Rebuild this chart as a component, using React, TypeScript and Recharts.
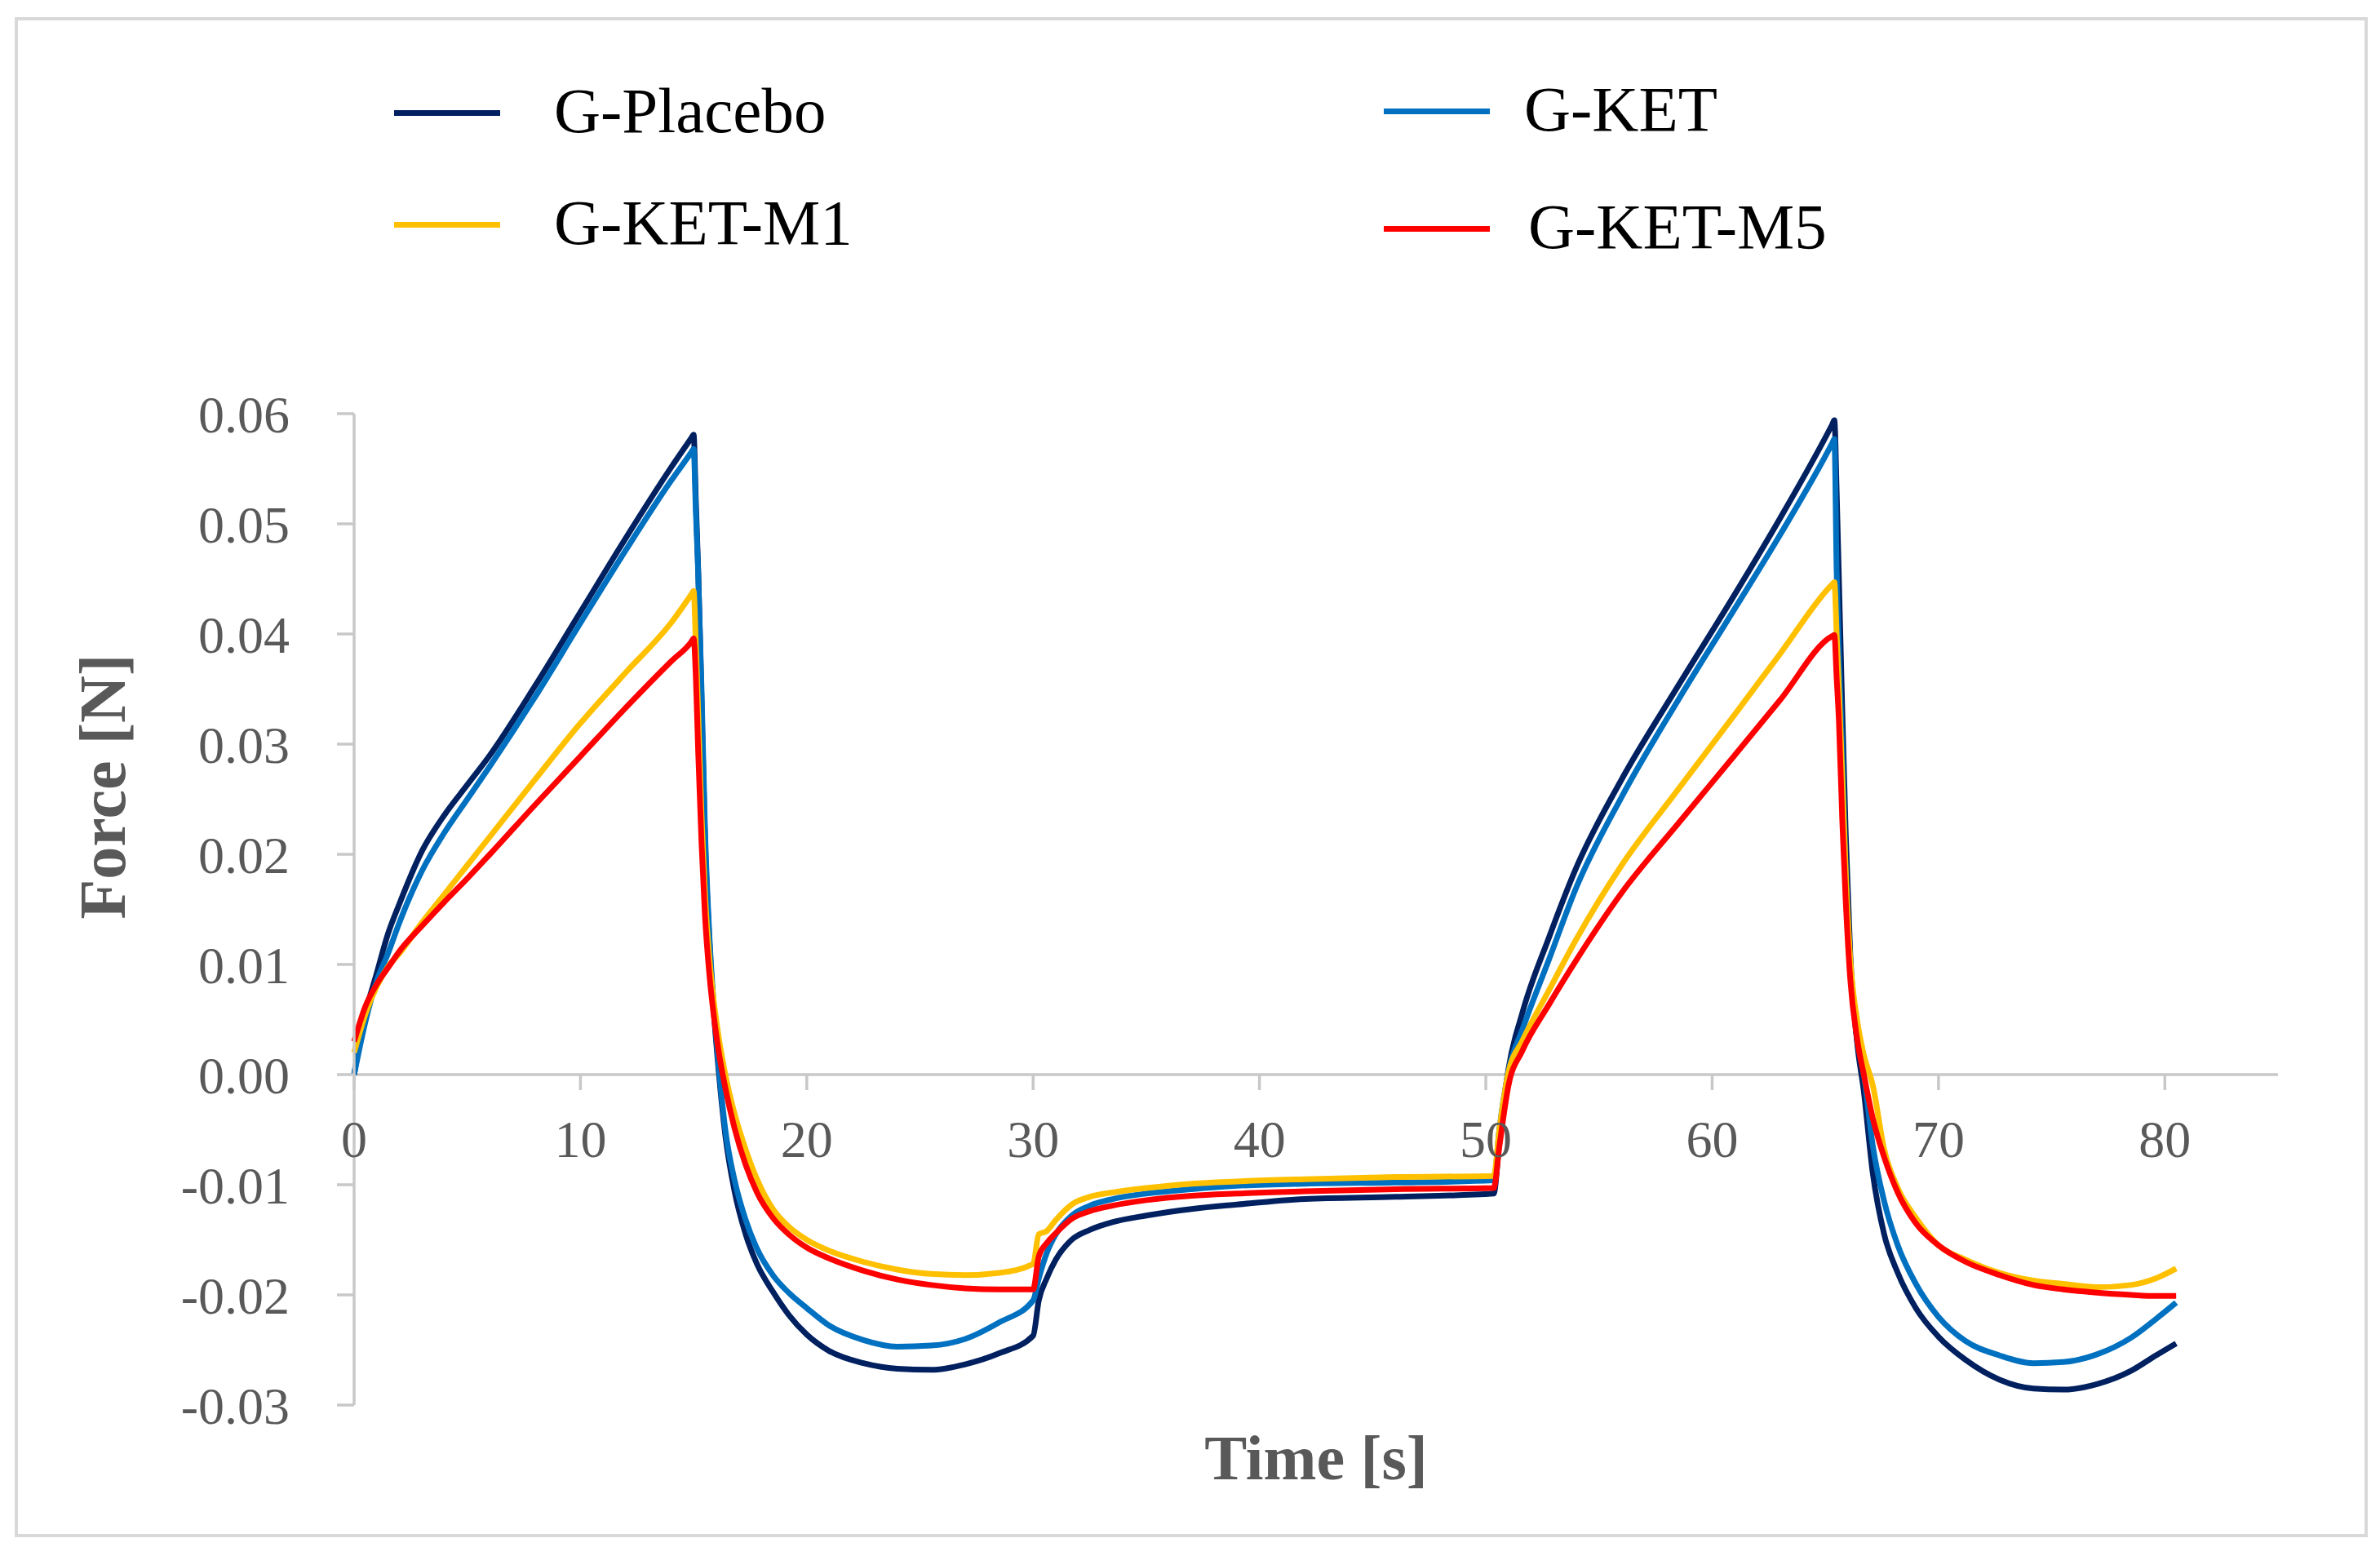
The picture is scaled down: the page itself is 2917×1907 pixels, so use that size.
import React from 'react'
import { LineChart, Line, XAxis, YAxis, ReferenceLine, Label } from 'recharts'

// time in seconds
const time = [
  0, 0.5, 1, 1.5, 2, 3, 4, 5, 6, 8,
  10, 12, 14, 14.9, 15, 15.1, 15.2, 15.35, 15.5, 15.7, 15.9,
  16.1, 16.4, 16.8, 17.3, 17.8, 18.5, 19.2, 20, 21, 22.5,
  24, 25.5, 27, 28.5, 30, 30.25, 30.6, 31, 31.7, 32.5,
  33.5, 35, 37, 39, 42, 46, 50.35, 50.6, 51, 51.6,
  52.8, 54, 56, 58.5, 61, 63, 65.3, 65.4, 65.5, 65.6, 65.75,
  65.9, 66.1, 66.4, 66.7, 67.1, 67.6, 68.2, 69, 70, 71.2,
  72.7, 74.2, 75.5, 77, 78.5, 79.6, 80.5,
]

const placebo = [
  0, 0.0055, 0.0092, 0.0128, 0.0155, 0.0203, 0.0236, 0.0263, 0.029, 0.0353,
  0.042, 0.0487, 0.0551, 0.0578, 0.0581, 0.052, 0.046, 0.034, 0.0215, 0.012, 0.0055,
  0.0005, -0.0055, -0.0105, -0.0145, -0.0172, -0.0197, -0.0218, -0.0236, -0.0251, -0.0262,
  -0.0267, -0.0268, -0.0263, -0.0253, -0.0237, -0.0205, -0.0185, -0.0168, -0.015, -0.0141,
  -0.0134, -0.0128, -0.0122, -0.0118, -0.0113, -0.0111, -0.0108, -0.006, 0.0005, 0.0055,
  0.0125, 0.0188, 0.0268, 0.0353, 0.0436, 0.0505, 0.059, 0.0594, 0.053, 0.045, 0.033,
  0.022, 0.011, 0.003, -0.0015, -0.009, -0.0145, -0.018, -0.0212, -0.0238, -0.0259,
  -0.0277, -0.0285, -0.0286, -0.0281, -0.0269, -0.0255, -0.0244,
]

const ket = [
  0, 0.0048, 0.0085, 0.011, 0.0138, 0.0185, 0.022, 0.025, 0.028, 0.0343,
  0.041, 0.0476, 0.0539, 0.0565, 0.0568, 0.051, 0.0457, 0.035, 0.0225, 0.0125, 0.006,
  0.001, -0.005, -0.0095, -0.0132, -0.0158, -0.0182, -0.0198, -0.0212, -0.0228, -0.0241,
  -0.0247, -0.0246, -0.024, -0.0225, -0.0205, -0.0185, -0.0162, -0.0145, -0.0128, -0.0119,
  -0.0113, -0.0108, -0.0104, -0.0101, -0.0099, -0.0098, -0.0096, -0.005, 0.0003, 0.004,
  0.0105, 0.017, 0.0252, 0.034, 0.0423, 0.049, 0.0573, 0.0577, 0.0457, 0.038, 0.0294,
  0.0185, 0.0099, 0.0033, 0, -0.0065, -0.0115, -0.0155, -0.019, -0.022, -0.0242,
  -0.0255, -0.0262, -0.0261, -0.0254, -0.0239, -0.0222, -0.0207,
]

const ketM1 = [
  0.002, 0.0055, 0.008, 0.0098, 0.011, 0.0138, 0.0164, 0.019, 0.0216, 0.0268,
  0.0319, 0.0365, 0.041, 0.0436, 0.0439, 0.039, 0.033, 0.0235, 0.0165, 0.0105, 0.0065,
  0.0035, 0, -0.0035, -0.0068, -0.0095, -0.0122, -0.0138, -0.015, -0.016, -0.017,
  -0.0177, -0.0181, -0.0182, -0.018, -0.0172, -0.0145, -0.0142, -0.0132, -0.0118, -0.0111,
  -0.0107, -0.0103, -0.0099, -0.0097, -0.0095, -0.0093, -0.0092, -0.005, 0.0002, 0.003,
  0.0077, 0.0123, 0.019, 0.0259, 0.0327, 0.0382, 0.0445, 0.0447, 0.04, 0.035, 0.027,
  0.0185, 0.0105, 0.005, 0.0018, -0.001, -0.0068, -0.0103, -0.013, -0.0155, -0.0168,
  -0.018, -0.0187, -0.019, -0.0193, -0.0191, -0.0185, -0.0176,
]

const ketM5 = [
  0.003, 0.0062, 0.0082, 0.0097, 0.0112, 0.0135, 0.0157, 0.0178, 0.02, 0.0245,
  0.0289, 0.0333, 0.0375, 0.0393, 0.0396, 0.036, 0.0294, 0.021, 0.0145, 0.009, 0.0052,
  0.0022, -0.0012, -0.0048, -0.0082, -0.0107, -0.013, -0.0145, -0.0157, -0.0167, -0.0178,
  -0.0186, -0.0191, -0.0194, -0.0195, -0.0195, -0.0165, -0.0153, -0.0144, -0.0131, -0.0124,
  -0.0119, -0.0114, -0.011, -0.0108, -0.0106, -0.0104, -0.0103, -0.0065, -0.001, 0.0021,
  0.0064, 0.0104, 0.0165, 0.0228, 0.029, 0.034, 0.0398, 0.0399, 0.036, 0.0321, 0.023,
  0.0158, 0.0087, 0.0033, 0, -0.004, -0.0075, -0.0107, -0.0135, -0.0155, -0.017,
  -0.0182, -0.0191, -0.0195, -0.0198, -0.02, -0.0201, -0.0201,
]

const xTicks = [0, 10, 20, 30, 40, 50, 60, 70, 80]
const yTicks = [-0.03, -0.02, -0.01, 0, 0.01, 0.02, 0.03, 0.04, 0.05, 0.06]

const series = [
  { key: 'placebo', name: 'G-Placebo', color: '#002060', values: placebo },
  { key: 'ket', name: 'G-KET', color: '#0070C0', values: ket },
  { key: 'ketM1', name: 'G-KET-M1', color: '#FFC000', values: ketM1 },
  { key: 'ketM5', name: 'G-KET-M5', color: '#FF0000', values: ketM5 },
]

const data = time.map((t, i) => {
  const row: Record<string, number> = { t }
  series.forEach((s) => { row[s.key] = s.values[i] })
  return row
})

const W = 2917
const H = 1907
const Y_MIN = -0.03
const Y_MAX = 0.06
const margin = { top: 507, right: 125, bottom: 155, left: 234 }
const Y_AXIS_W = 200
const X_AXIS_H = 30
const plotLeft = margin.left + Y_AXIS_W
const plotW = W - plotLeft - margin.right
const plotH = H - margin.top - margin.bottom - X_AXIS_H
const zeroY = margin.top + (plotH * Y_MAX) / (Y_MAX - Y_MIN)

const FONT = "'Liberation Serif', 'Times New Roman', serif"
const GREY = '#595959'
const AXIS = '#c8c8c8'

// x ticks hang off the zero line, like Excel's "axis crosses at 0"
const XTick = (props: any) => {
  const { x, payload } = props
  return (
    <g>
      <line x1={x} y1={zeroY} x2={x} y2={zeroY + 19} stroke={AXIS} strokeWidth={3.5} />
      <text x={x} y={zeroY + 78} dy="0.355em" textAnchor="middle" fill={GREY} fontSize={64} fontFamily={FONT}>
        {payload.value}
      </text>
    </g>
  )
}

const legendPos = [
  { left: 483, top: 138, textLeft: 679 },
  { left: 1696, top: 136, textLeft: 1868 },
  { left: 483, top: 275, textLeft: 679 },
  { left: 1696, top: 280, textLeft: 1873 },
]

export default function App() {
  return (
    <div style={{ position: 'absolute', left: 0, top: 0, width: W, height: H, background: '#fff' }}>
      <div
        style={{
          position: 'absolute', left: 18, top: 21, width: 2884, height: 1863,
          border: '4px solid #d9d9d9', boxSizing: 'border-box',
        }}
      />
      <LineChart width={W} height={H} data={data} margin={margin}>
        <XAxis
          dataKey="t"
          type="number"
          domain={[0, 85]}
          ticks={xTicks}
          interval={0}
          height={X_AXIS_H}
          axisLine={false}
          tickLine={false}
          tick={XTick}
        >
          <Label
            content={() => (
              <text
                x={plotLeft + plotW / 2} y={1786} dy="0.35em" textAnchor="middle"
                fill={GREY} fontSize={78} fontWeight="bold" fontFamily={FONT}
              >
                Time [s]
              </text>
            )}
          />
        </XAxis>
        <YAxis
          type="number"
          domain={[Y_MIN, Y_MAX]}
          ticks={yTicks}
          interval={0}
          width={Y_AXIS_W}
          tickFormatter={(v: number) => v.toFixed(2)}
          axisLine={{ stroke: AXIS, strokeWidth: 3.5 }}
          tickLine={{ stroke: AXIS, strokeWidth: 3.5 }}
          tickSize={21}
          tickMargin={58}
          tick={{ fill: GREY, fontSize: 64, fontFamily: FONT }}
        >
          <Label
            content={() => (
              <text
                x={125} y={964} dy="0.35em" textAnchor="middle" transform="rotate(-90 125 964)"
                fill={GREY} fontSize={80} fontWeight="bold" fontFamily={FONT}
              >
                Force [N]
              </text>
            )}
          />
        </YAxis>
        <ReferenceLine y={0} stroke={AXIS} strokeWidth={3.5} />
        {series.map((s) => (
          <Line
            key={s.key}
            dataKey={s.key}
            name={s.name}
            type="monotone"
            stroke={s.color}
            strokeWidth={7}
            dot={false}
            activeDot={false}
            isAnimationActive={false}
          />
        ))}
      </LineChart>
      {series.map((s, i) => {
        const p = legendPos[i]
        return (
          <div key={s.key}>
            <div
              style={{
                position: 'absolute', left: p.left, top: p.top - 3.5, width: 130, height: 7,
                background: s.color,
              }}
            />
            <div
              style={{
                position: 'absolute', left: p.textLeft, top: p.top - 52, fontSize: 79,
                lineHeight: '100px', fontFamily: FONT, color: '#000', whiteSpace: 'nowrap',
              }}
            >
              {s.name}
            </div>
          </div>
        )
      })}
    </div>
  )
}
